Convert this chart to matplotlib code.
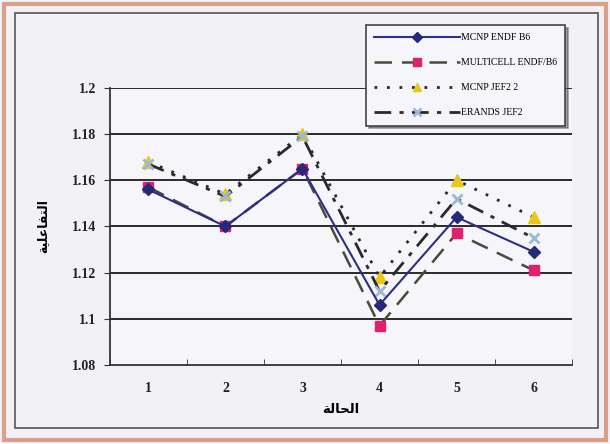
import matplotlib
matplotlib.use("Agg")
import matplotlib.pyplot as plt
from matplotlib.patches import Rectangle

# reactivity per case for each code / library combination
cases = [1, 2, 3, 4, 5, 6]
mcnp_endf = [1.156, 1.140, 1.165, 1.106, 1.144, 1.129]
multicell_endf = [1.157, 1.140, 1.165, 1.097, 1.137, 1.121]
mcnp_jef = [1.168, 1.154, 1.180, 1.118, 1.160, 1.144]
erands_jef = [1.167, 1.153, 1.179, 1.112, 1.152, 1.135]
y_ticks = [1.08, 1.1, 1.12, 1.14, 1.16, 1.18, 1.2]
y_labels = ["1.08", "1.1", "1.12", "1.14", "1.16", "1.18", "1.2"]

# Arabic labels written in presentation forms, visual order
x_title = "\uFE94\uFEDF\uFE8E\uFEA4\uFEDF\uFE8D"
y_title = "\uFE94\uFEF4\uFEE0\uFECB\uFE8E\uFED4\uFE98\uFEDF\uFE8D"

plt.rcParams["font.family"] = ["Liberation Serif", "DejaVu Sans"]

fig = plt.figure(figsize=(6.1, 4.44), dpi=100, facecolor="#f2f1f6")
ax = fig.add_axes([0.180, 0.178, 0.758, 0.624])
ax.set_facecolor("#f5f5fa")

# chart frame
fig.patches.append(Rectangle((0.006, 0.01), 0.988, 0.98, transform=fig.transFigure,
                             fill=False, edgecolor="#d9a08a", lw=3))
fig.patches.append(Rectangle((0.025, 0.035), 0.955, 0.935, transform=fig.transFigure,
                             fill=False, edgecolor="#555555", lw=1.2))

for v in y_ticks[1:]:
    ax.axhline(v, color="#2a2a2a", lw=1.4, zorder=1)

ax.plot(cases, mcnp_endf, color="#2d2f86", lw=1.5, marker="D", ms=6,
        mfc="#232a7a", mec="#232a7a", label="MCNP ENDF B6", zorder=4)
ax.plot(cases, multicell_endf, color="#4a4a3a", lw=1.8, ls=(0, (7, 4)), marker="s", ms=7,
        mfc="#e0206e", mec="#e0206e", label="MULTICELL ENDF/B6", zorder=3)
ax.plot(cases, mcnp_jef, color="#2a2a2a", lw=2, ls=(0, (1, 3.5)), marker="^", ms=8,
        mfc="#e8c81a", mec="#e8c81a", label="MCNP JEF2 2", zorder=3)
ax.plot(cases, erands_jef, color="#2a2a2a", lw=2, ls=(0, (6, 3, 1.5, 3)), marker="x", ms=7,
        mew=2, mec="#9bb8d6", label="ERANDS JEF2", zorder=3)

ax.set_xlim(0.5, 6.5)
ax.set_ylim(1.08, 1.2)
ax.set_yticks(y_ticks)
ax.set_yticklabels(y_labels)
ax.set_xticks(cases)
ax.set_xticks([c + 0.5 for c in [0] + cases], minor=True)
ax.tick_params(axis="x", which="major", length=0, pad=12)
ax.tick_params(axis="x", which="minor", length=4, direction="in", color="#333333")
ax.tick_params(axis="y", length=4, color="#333333", pad=6)
for lab in ax.get_xticklabels() + ax.get_yticklabels():
    lab.set_fontsize(10)
    lab.set_fontweight("bold")
    lab.set_color("#222222")

for s in ["top", "right"]:
    ax.spines[s].set_visible(False)
ax.spines["left"].set_color("#333333")
ax.spines["bottom"].set_color("#333333")
ax.spines["left"].set_linewidth(1.3)
ax.spines["bottom"].set_linewidth(1.3)

ax.set_xlabel(x_title, family=["DejaVu Sans"], fontsize=9.5, fontweight="bold", labelpad=6)
ax.set_ylabel(y_title, family=["DejaVu Sans"], fontsize=9, fontweight="bold", labelpad=16)

leg = ax.legend(loc="upper left", bbox_to_anchor=(0.600, 0.944), bbox_transform=fig.transFigure,
                borderaxespad=0, handlelength=8.8, fontsize=7, frameon=True, fancybox=False,
                shadow=True, borderpad=0.85, labelspacing=1.65, handletextpad=0.1, markerscale=0.8)
leg.get_frame().set_edgecolor("#444444")
leg.get_frame().set_linewidth(1.2)
leg.get_frame().set_facecolor("#f6f6fa")
leg.set_zorder(10)

fig.savefig("out.png", dpi=100, facecolor=fig.get_facecolor())
